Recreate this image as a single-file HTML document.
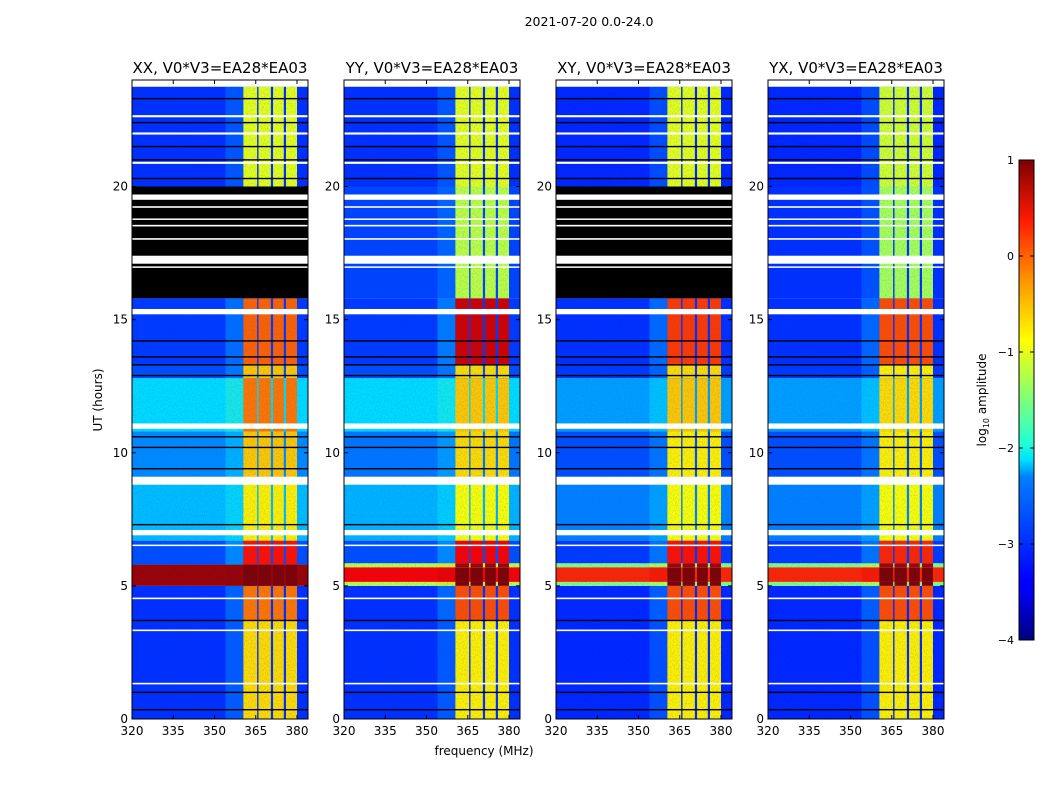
<!DOCTYPE html>
<html><head><meta charset="utf-8">
<style>
body{margin:0;background:#fff;font-family:"Liberation Sans","DejaVu Sans",sans-serif;}
svg text{font-family:"DejaVu Sans","Liberation Sans",sans-serif;}
</style></head>
<body>
<svg id="fig" width="1050" height="800" xmlns="http://www.w3.org/2000/svg">
<defs>
<linearGradient id="jet" x1="0" y1="1" x2="0" y2="0">
<stop offset="0" stop-color="#00007f"/><stop offset="0.11" stop-color="#0000ff"/><stop offset="0.125" stop-color="#0000ff"/>
<stop offset="0.34" stop-color="#0080ff"/><stop offset="0.375" stop-color="#00e0ff"/><stop offset="0.41" stop-color="#20ffd8"/>
<stop offset="0.5" stop-color="#7dff7a"/><stop offset="0.625" stop-color="#ffff00"/><stop offset="0.75" stop-color="#ff9400"/>
<stop offset="0.875" stop-color="#ff1a00"/><stop offset="1" stop-color="#7f0000"/>
</linearGradient>
<filter id="noise" x="0" y="0" width="100%" height="100%">
<feTurbulence type="fractalNoise" baseFrequency="0.9 0.6" numOctaves="1" seed="3"/>
<feColorMatrix type="matrix" values="0 0 0 0 0  0 0 0 0 0.1  0 0 0 0 0.7  0 0 0 1.6 -0.65"/>
</filter>
</defs>
<text x="589" y="26" font-size="12.5" text-anchor="middle">2021-07-20 0.0-24.0</text>
<g id="panels"></g>
<text transform="translate(102,400) rotate(-90)" font-size="12" text-anchor="middle">UT (hours)</text>
<text x="484" y="755" font-size="12" text-anchor="middle">frequency (MHz)</text>
<g>
<rect x="1019" y="160" width="15" height="480" fill="url(#jet)" stroke="#000" stroke-width="1"/>
</g>
<g id="cbticks"></g>
<text transform="translate(986,400) rotate(-90)" font-size="12" text-anchor="middle">log<tspan font-size="8" dy="3">10</tspan><tspan dy="-3"> amplitude</tspan></text>
</svg>
<script>
const titles = ["XX, V0*V3=EA28*EA03","YY, V0*V3=EA28*EA03","XY, V0*V3=EA28*EA03","YX, V0*V3=EA28*EA03"];
const xTicks = [320,335,350,365,380];
const yTicks = [0,5,10,15,20];
const cbTicks = [1,0,-1,-2,-3,-4];
const bands = [[360.5,365.5],[366,370.5],[371.3,375.2],[376,380]];
// segments: [startHour, endHour, backgroundValue, bandValue]  (log10 amplitude; null = flagged black)
const segXX = [[0,3.7,-3.15,-0.7],[3.7,5.0,-3.15,-0.2],[5.0,5.8,0.85,1.0],[5.8,6.7,-3.0,0.3],[6.7,8.9,-2.45,-0.8],[8.9,10.8,-2.7,-0.6],[10.8,12.8,-2.3,-0.2],[12.8,13.3,-3.0,-0.6],[13.3,15.8,-3.1,-0.1],[15.8,20,null,null],[20,23.75,-3.15,-1.0]];
const segYY = [[0,3.7,-3.15,-0.8],[3.7,5.0,-3.15,0.0],[5.0,5.15,-1.2,1.0],[5.15,5.7,0.4,1.0],[5.7,5.85,-1.2,0.8],[5.85,6.7,-3.0,0.4],[6.7,8.9,-2.5,-0.9],[8.9,10.8,-2.8,-0.7],[10.8,12.8,-2.3,-0.6],[12.8,13.3,-3.0,-0.7],[13.3,15.8,-3.1,0.6],[15.8,20,-3.05,-1.2],[20,23.75,-3.15,-1.0]];
const segXY = [[0,3.7,-3.2,-0.8],[3.7,5.0,-3.2,0.0],[5.0,5.15,-1.5,1.0],[5.15,5.7,0.2,1.0],[5.7,5.85,-1.5,0.8],[5.85,6.7,-3.1,0.3],[6.7,8.9,-2.75,-0.9],[8.9,10.8,-3.0,-0.8],[10.8,12.8,-2.6,-0.6],[12.8,13.3,-3.1,-0.7],[13.3,15.8,-3.15,0.1],[15.8,20,null,null],[20,23.75,-3.2,-1.0]];
const segYX = [[0,3.7,-3.2,-0.8],[3.7,5.0,-3.2,0.0],[5.0,5.15,-1.5,1.0],[5.15,5.7,0.2,1.0],[5.7,5.85,-1.5,0.8],[5.85,6.7,-3.1,0.2],[6.7,8.9,-2.75,-0.9],[8.9,10.8,-3.0,-0.8],[10.8,12.8,-2.6,-0.7],[12.8,13.3,-3.1,-0.8],[13.3,15.8,-3.15,0.0],[15.8,20,-3.15,-1.3],[20,23.75,-3.2,-1.1]];
const whiteGaps = [[23.75,24],[22.6,22.68],[21.95,22.03],[20.85,20.93],[19.5,19.7],[19.2,19.26],[18.75,18.8],[18.5,18.56],[18.0,18.06],[17.1,17.4],[16.95,17.0],[15.2,15.4],[10.9,11.1],[8.8,9.1],[6.9,7.1],[6.5,6.55],[4.5,4.56],[3.3,3.36],[1.3,1.36]];
const blackLines = [23.3,22.4,21.5,21.0,20.3,14.2,13.6,13.3,12.9,10.6,10.2,9.4,7.3,3.7,1.0,0.35];
const allSegs = [segXX,segYY,segXY,segYX];
const panelLefts = [132,344,556,768];
const PW = 176, TOP = 80, BOT = 719;
const xs = (L,f)=>L+(f-320)*2.75;
const ys = h=>BOT-h*(BOT-TOP)/24;
function jet(v){
  const t=Math.max(0,Math.min(1,(v+4)/5));
  const r=Math.max(0,Math.min(1,1.5-Math.abs(4*t-3)));
  const g=Math.max(0,Math.min(1,1.5-Math.abs(4*t-2)));
  const b=Math.max(0,Math.min(1,1.5-Math.abs(4*t-1)));
  return `rgb(${Math.round(r*255)},${Math.round(g*255)},${Math.round(b*255)})`;
}
const NS="http://www.w3.org/2000/svg";
function mk(tag,attrs,parent){const e=document.createElementNS(NS,tag);for(const k in attrs)e.setAttribute(k,attrs[k]);parent.appendChild(e);return e;}
const panels=document.getElementById('panels');
allSegs.forEach((segs,p)=>{
  const L=panelLefts[p];
  const g=mk('g',{},panels);
  
  
  mk('rect',{x:L,y:TOP,width:PW,height:BOT-TOP,fill:'#fff'},g);
  segs.forEach(s=>{
    if(s[2]===null)return;
    const y0=ys(s[1]),y1=ys(s[0]);
    const bg=mk('rect',{x:L,y:y0,width:PW,height:y1-y0,fill:jet(s[2])},g);
    
    
    const wing=mk('rect',{x:xs(L,354),y:y0,width:xs(L,360.5)-xs(L,354),height:y1-y0,fill:jet(s[2]+(s[3]-s[2])*0.25),opacity:0.35},g);
    
    
    bands.forEach(b=>{
      const r=mk('rect',{x:xs(L,b[0]),y:y0,width:xs(L,b[1])-xs(L,b[0]),height:y1-y0,fill:jet(s[3])},g);
      
      
    });
  });
  mk('rect',{x:L,y:TOP,width:PW,height:BOT-TOP,fill:'#fff',filter:'url(#noise)',opacity:0.3},g);
  segs.forEach(s=>{
    if(s[2]!==null)return;
    const y0=ys(s[1]),y1=ys(s[0]);
    const r=mk('rect',{x:L,y:y0,width:PW,height:y1-y0,fill:'#000'},g);
    
    
  });
  whiteGaps.forEach(w=>{const y0=ys(w[1]),y1=ys(w[0]);
    const r=mk('rect',{x:L,y:y0,width:PW,height:Math.max(1.5,y1-y0),fill:'#fff'},g);
    
    });
  blackLines.forEach(h=>{const r=mk('rect',{x:L,y:ys(h)-0.7,width:PW,height:1.4,fill:'#000'},g);
    
    });
  mk('rect',{x:L,y:TOP,width:PW,height:BOT-TOP,fill:'none',stroke:'#000','stroke-width':1},g);
  const t=mk('text',{x:L+PW/2,y:73,'font-size':15,'text-anchor':'middle'},g);t.textContent=titles[p];
  
  
  xTicks.forEach(v=>{const x=xs(L,v);
    mk('line',{x1:x,x2:x,y1:BOT,y2:BOT-4,stroke:'#000'},g);
    mk('line',{x1:x,x2:x,y1:TOP,y2:TOP+4,stroke:'#000'},g);
    const tx=mk('text',{x:x,y:BOT+16,'font-size':12,'text-anchor':'middle'},g);tx.textContent=v;
    
    });
  yTicks.forEach(v=>{const y=ys(v);
    mk('line',{x1:L,x2:L+4,y1:y,y2:y,stroke:'#000'},g);
    mk('line',{x1:L+PW,x2:L+PW-4,y1:y,y2:y,stroke:'#000'},g);
    const tx=mk('text',{x:L-4,y:y+4,'font-size':12,'text-anchor':'end'},g);tx.textContent=v;
    
    });
});
const cb=document.getElementById('cbticks');
cbTicks.forEach(v=>{const y=160+(1-v)*96;
  mk('line',{x1:1019,x2:1023,y1:y,y2:y,stroke:'#000'},cb);
  mk('line',{x1:1030,x2:1034,y1:y,y2:y,stroke:'#000'},cb);
  const tx=mk('text',{x:1014,y:y+4,'font-size':11,'text-anchor':'end'},cb);tx.textContent=v<0?'\u2212'+(-v):v;
  
  });
</script>
</body></html>
